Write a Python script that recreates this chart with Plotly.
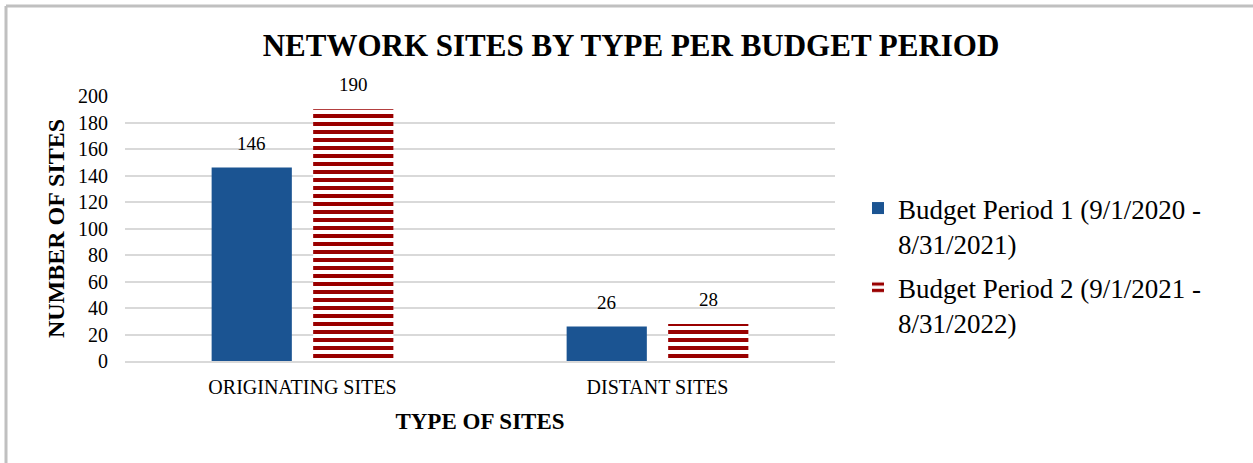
import plotly.graph_objects as go

# Chart data
categories = ["ORIGINATING SITES", "DISTANT SITES"]
period1_values = [146, 26]
period2_values = [190, 28]
series_names = [
    "Budget Period 1 (9/1/2020 -<br>8/31/2021)",
    "Budget Period 2 (9/1/2021 -<br>8/31/2022)",
]
y_ticks = [0, 20, 40, 60, 80, 100, 120, 140, 160, 180, 200]

FONT = "Liberation Serif, Times New Roman, serif"
BLUE = "#1B5492"
RED = "#990000"
GRID = "#d9d9d9"

W, H = 1253, 463
M_L, M_R, M_T, M_B = 125, 418, 96, 102
BARGAP, GROUPGAP = 0.428, 0.21

fig = go.Figure()
fig.add_trace(go.Bar(
    x=categories, y=period1_values, name=series_names[0], legendgroup="p1",
    marker=dict(color=BLUE, line=dict(width=0)),
))
fig.add_trace(go.Bar(
    x=categories, y=period2_values, name=series_names[1], legendgroup="p2",
    marker=dict(
        color="white", line=dict(width=0),
        pattern=dict(shape="-", fgcolor=RED, bgcolor="white", size=8,
                     solidity=0.5, fillmode="replace"),
    ),
))

# value labels above each bar (offset to the bar's slot within its group)
plot_w = W - M_L - M_R
slot = plot_w / len(categories) * (1 - BARGAP) / 2
for vals, sign in ((period1_values, -1), (period2_values, 1)):
    for cat, v in zip(categories, vals):
        fig.add_annotation(
            x=cat, y=v, xref="x", yref="y", text=str(v), showarrow=False,
            yanchor="bottom", yshift=12, xshift=sign * slot / 2,
            font=dict(family=FONT, size=19, color="#000000"),
        )

# outer frame (top and left edges visible)
plot_h = H - M_T - M_B
fx = (6 - M_L) / plot_w
fy = (H - M_B - 6) / plot_h
frame = dict(color="#c0c0c0", width=3)
fig.add_shape(type="line", xref="paper", yref="paper", x0=fx, x1=2.0, y0=fy, y1=fy, line=frame)
fig.add_shape(type="line", xref="paper", yref="paper", x0=fx, x1=fx, y0=fy, y1=-1.0, line=frame)

fig.update_layout(
    width=W, height=H,
    margin=dict(l=M_L, r=M_R, t=M_T, b=M_B, autoexpand=False),
    paper_bgcolor="white", plot_bgcolor="white",
    barmode="group", bargap=BARGAP, bargroupgap=GROUPGAP,
    font=dict(family=FONT, color="#000000"),
    title=dict(
        text="<b>NETWORK SITES BY TYPE PER BUDGET PERIOD</b>",
        x=631 / W, xref="container", xanchor="center",
        y=1 - 45 / H, yref="container", yanchor="middle",
        font=dict(family=FONT, size=31, color="#000000"),
    ),
    legend=dict(
        x=858 / W, xref="container", xanchor="left",
        y=1 - 184 / H, yref="container", yanchor="top",
        font=dict(family=FONT, size=27, color="#000000"),
        valign="top", tracegroupgap=6, bgcolor="rgba(0,0,0,0)",
        itemclick=False,
    ),
    showlegend=True,
)

fig.update_xaxes(
    showgrid=False, showline=True, linecolor=GRID, linewidth=2,
    ticks="", ticklabelstandoff=7,
    tickfont=dict(family=FONT, size=20, color="#000000"),
    title=dict(text="<b>TYPE OF SITES</b>", standoff=16,
               font=dict(family=FONT, size=23, color="#000000")),
)
fig.update_yaxes(
    range=[0, 200], tickvals=y_ticks, showgrid=True, gridcolor=GRID, gridwidth=1.5,
    zeroline=False, showline=False, ticks="", ticklabelstandoff=16,
    tickfont=dict(family=FONT, size=20, color="#000000"),
    title=dict(text="<b>NUMBER OF SITES</b>", standoff=6,
               font=dict(family=FONT, size=24, color="#000000")),
)

fig.write_html("out.html")
